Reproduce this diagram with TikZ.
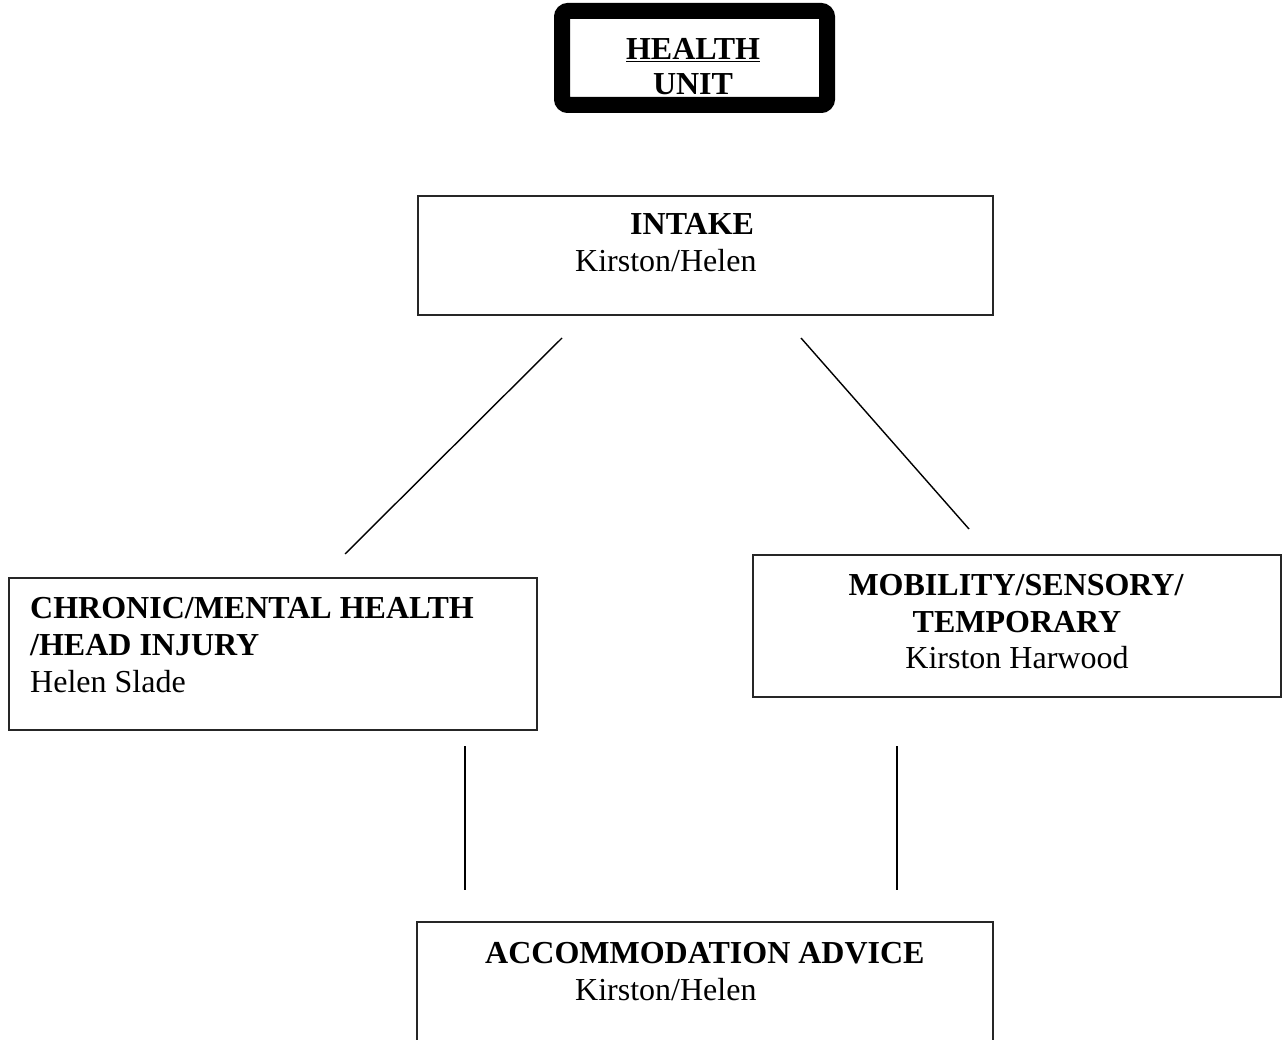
\documentclass[tikz,border=0pt]{standalone}
\usepackage{fontspec}
\setmainfont{Liberation Serif}
\begin{document}
\begin{tikzpicture}[x=1pt,y=-1pt,
  box/.style={draw=black!85,line width=1.2pt,anchor=north west,inner sep=0pt,outer sep=0pt},
  txt/.style={anchor=base west,inner sep=0pt,font=\fontsize{32}{37}\selectfont},
  bold/.style={txt,font=\fontsize{32}{37}\selectfont\bfseries},
  conn/.style={line width=1.4pt,black}]
\useasboundingbox (0,0) rectangle (1285,1040);
% header
\node[draw=black,line width=16pt,rounded corners=6pt,anchor=north west,inner sep=0pt,outer sep=0pt,
  minimum width=265pt,minimum height=94pt] (head) at (562,11) {};
\node[bold,anchor=base] (headA) at (693,60) {\underline{HEALTH}};
\node[bold,anchor=base] (headB) at (693,95) {UNIT};
% intake
\node[box,minimum width=575pt,minimum height=119pt] (intake) at (418,196) {};
\node[bold] (intakeA) at (630,235) {INTAKE};
\node[txt] (intakeB) at (575,272) {Kirston/Helen};
% chronic
\node[box,minimum width=528pt,minimum height=152pt] (chronic) at (9,578) {};
\node[bold] (chronicA) at (30,618) {CHRONIC/MENTAL HEALTH};
\node[bold] (chronicB) at (30,655) {/HEAD INJURY};
\node[txt] (chronicC) at (30,692) {Helen Slade};
% mobility
\node[box,minimum width=528pt,minimum height=142pt] (mob) at (753,555) {};
\node[bold,anchor=base] (mobA) at (1016,595) {MOBILITY/SENSORY/};
\node[bold,anchor=base] (mobB) at (1017,632) {TEMPORARY};
\node[txt,anchor=base] (mobC) at (1017,668) {Kirston Harwood};
% accommodation
\draw[draw=black!85,line width=1.2pt] (417,1045) -- (417,922) -- (993,922) -- (993,1045);
\coordinate (accom) at (705,980);
\node[bold] (accomA) at (485,963) {ACCOMMODATION ADVICE};
\node[txt] (accomB) at (575,1000) {Kirston/Helen};
% connectors
\coordinate (c1a) at (562,338); \coordinate (c1b) at (345,554);
\coordinate (c2a) at (801,338); \coordinate (c2b) at (969,529);
\coordinate (c3a) at (465,746); \coordinate (c3b) at (465,890);
\coordinate (c4a) at (897,746); \coordinate (c4b) at (897,890);
\draw[conn] (c1a) -- (c1b);
\draw[conn] (c2a) -- (c2b);
\draw[conn] (c3a) -- (c3b);
\draw[conn] (c4a) -- (c4b);
\end{tikzpicture}
\end{document}
